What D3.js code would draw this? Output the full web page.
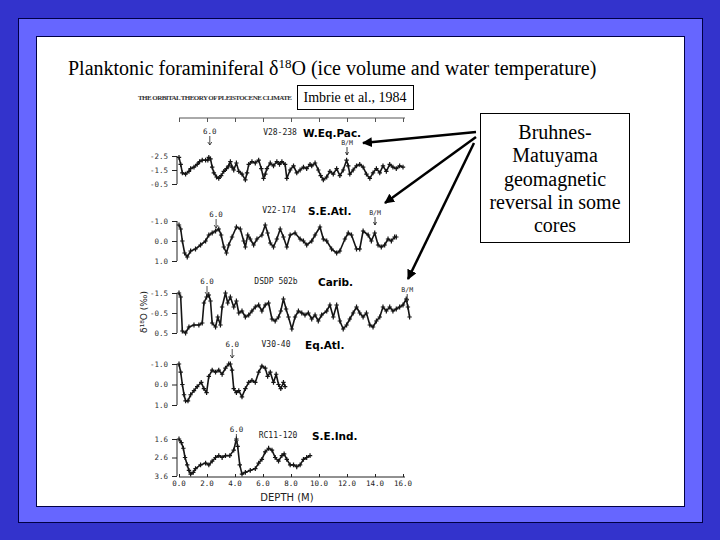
<!DOCTYPE html>
<html>
<head>
<meta charset="utf-8">
<script src="https://cdn.jsdelivr.net/npm/d3@7"></script>
<style>
  body { margin: 0; background: #3333cc; }
  svg { display: block; }
</style>
</head>
<body>
<div id="slide"></div>
<script>
// depth (m) and d18O values, one pair of arrays per core
const v28Depth = [0, 0.12, 0.24, 0.47, 0.71, 0.83, 1.07, 1.3, 1.47, 1.66, 1.9, 2.06, 2.13, 2.25, 2.37, 2.49, 2.68, 2.84, 3.01, 3.2, 3.39, 3.55, 3.67, 3.79, 3.91, 4.1, 4.27, 4.5, 4.74, 4.86, 4.98, 5.21, 5.45, 5.69, 5.88, 6.04, 6.16, 6.28, 6.52, 6.75, 6.99, 7.18, 7.35, 7.58, 7.7, 7.94, 8.18, 8.41, 8.65, 8.89, 9.12, 9.36, 9.48, 9.72, 9.95, 10.12, 10.31, 10.55, 10.78, 11.02, 11.26, 11.49, 11.73, 11.97, 12.09, 12.2, 12.44, 12.68, 12.91, 13.15, 13.39, 13.63, 13.86, 14.1, 14.34, 14.57, 14.81, 15.05, 15.28, 15.52, 15.76, 16.0];
const v28Val = [-2.4, -1.9, -1.3, -1.2, -1.4, -1.6, -1.7, -1.9, -2.1, -2.2, -2.2, -2.2, -2.4, -2.3, -1.7, -1.3, -1.0, -0.9, -1.1, -1.4, -1.6, -1.8, -2.1, -1.7, -1.5, -2.0, -1.4, -1.2, -0.8, -1.3, -1.9, -2.1, -2.0, -2.2, -1.6, -0.9, -1.2, -1.6, -2.0, -1.8, -2.1, -1.9, -2.1, -1.9, -0.9, -1.5, -1.8, -1.3, -1.5, -1.7, -1.6, -1.9, -1.8, -2.0, -1.5, -1.1, -0.8, -1.0, -1.4, -1.2, -1.6, -1.1, -1.5, -2.2, -1.8, -1.2, -1.5, -1.8, -1.9, -1.7, -1.2, -0.9, -1.3, -1.6, -1.3, -1.8, -1.4, -1.9, -1.7, -1.6, -1.8, -1.7];

const v22Depth = [0, 0.12, 0.24, 0.4, 0.59, 0.83, 1.18, 1.54, 1.9, 2.13, 2.37, 2.61, 2.84, 3.01, 3.2, 3.39, 3.55, 3.79, 4.1, 4.38, 4.62, 4.74, 4.91, 5.09, 5.33, 5.57, 5.92, 6.16, 6.33, 6.52, 6.75, 6.99, 7.23, 7.46, 7.7, 7.94, 8.29, 8.65, 8.89, 9.12, 9.48, 9.72, 10.07, 10.31, 10.55, 10.9, 11.26, 11.49, 11.85, 12.09, 12.32, 12.68, 12.91, 13.15, 13.51, 13.74, 13.98, 14.22, 14.45, 14.69, 14.93, 15.17, 15.4, 15.52];
const v22Val = [-0.8, -0.6, 0.0, 0.6, 0.8, 0.5, 0.4, 0.2, 0.0, -0.3, -0.4, -0.5, -0.6, -0.3, 0.3, 0.6, 0.2, -0.2, -0.7, -0.6, 0.0, 0.3, -0.3, -0.1, 0.2, -0.1, -0.3, -0.8, -0.4, 0.1, 0.3, -0.1, -0.6, -0.2, 0.3, -0.3, -0.4, -0.1, 0.0, 0.2, 0.0, -0.3, -0.7, -0.1, 0.0, 0.4, 0.6, 0.5, -0.1, -0.4, -0.3, 0.4, 0.4, -0.5, -0.3, 0.0, -0.4, 0.2, 0.3, 0.2, -0.1, 0.0, -0.2, -0.2];

const dsdpDepth = [0, 0.12, 0.24, 0.47, 0.71, 1.07, 1.42, 1.66, 1.78, 1.97, 2.13, 2.25, 2.37, 2.61, 2.77, 2.96, 3.08, 3.32, 3.48, 3.67, 3.91, 4.1, 4.27, 4.5, 4.74, 4.98, 5.21, 5.45, 5.69, 5.92, 6.16, 6.4, 6.64, 6.87, 7.11, 7.27, 7.46, 7.65, 7.82, 8.06, 8.29, 8.53, 8.77, 9.0, 9.24, 9.48, 9.72, 9.95, 10.19, 10.55, 10.78, 11.02, 11.26, 11.49, 11.73, 11.97, 12.2, 12.44, 12.68, 12.91, 13.15, 13.39, 13.63, 13.86, 14.1, 14.34, 14.57, 14.81, 15.05, 15.28, 15.52, 15.76, 16.0, 16.23, 16.35, 16.47];
const dsdpVal = [-1.5, -1.3, 0.4, 0.5, 0.2, 0.1, 0.1, 0.0, -1.0, -1.3, -1.4, -1.1, 0.0, 0.2, -0.3, 0.1, -0.8, -1.5, -1.0, -1.3, -0.8, -1.1, -0.5, -0.6, -0.3, -0.4, -0.6, -0.8, -0.9, -0.6, -0.9, -1.0, -0.2, -0.1, -0.3, -0.6, -1.2, -0.7, -0.3, 0.3, -0.3, -0.6, -0.5, -0.4, -0.5, -0.2, -0.4, -0.1, -0.4, -0.6, -0.9, -0.3, -0.9, -0.1, 0.3, 0.1, -0.2, -0.5, -0.8, -0.5, -0.3, -0.5, 0.1, 0.2, -0.1, -0.3, -0.8, -0.6, -0.8, -0.6, -0.7, -0.8, -0.9, -1.2, -0.8, -0.3];

const v30Depth = [0, 0.12, 0.24, 0.36, 0.47, 0.64, 0.83, 1.07, 1.3, 1.59, 1.78, 1.97, 2.13, 2.37, 2.61, 2.84, 3.08, 3.32, 3.55, 3.67, 3.79, 3.91, 4.1, 4.27, 4.5, 4.74, 4.98, 5.21, 5.45, 5.69, 5.92, 6.16, 6.33, 6.52, 6.75, 6.94, 7.11, 7.27, 7.46, 7.58];
const v30Val = [-1.0, -0.6, 0.0, 0.5, 0.8, 0.8, 0.5, 0.3, 0.1, -0.1, 0.2, 0.4, -0.4, -0.7, -0.6, -0.7, -0.5, -0.8, -1.0, -1.0, -0.7, 0.2, 0.4, 0.3, 0.6, 0.2, -0.1, -0.2, -0.1, -0.6, -0.9, -0.8, -0.4, -0.6, -0.1, -0.5, 0.0, 0.2, -0.1, 0.1];

const rc11Depth = [0, 0.17, 0.31, 0.43, 0.59, 0.71, 0.83, 1.02, 1.18, 1.54, 1.9, 2.13, 2.37, 2.61, 2.84, 3.08, 3.32, 3.63, 3.91, 4.1, 4.19, 4.34, 4.5, 4.74, 5.09, 5.45, 5.69, 5.92, 6.16, 6.4, 6.64, 6.87, 7.11, 7.35, 7.51, 7.7, 7.94, 8.18, 8.41, 8.65, 8.89, 9.12, 9.36];
const rc11Val = [1.6, 1.8, 2.1, 2.6, 3.0, 3.3, 3.5, 3.4, 3.2, 3.0, 2.9, 3.0, 2.8, 2.6, 2.5, 2.6, 2.5, 2.5, 2.2, 1.6, 2.0, 3.0, 3.5, 3.4, 3.3, 3.2, 2.9, 2.7, 2.3, 2.1, 2.2, 2.6, 2.8, 2.5, 2.4, 2.7, 3.0, 3.0, 3.1, 3.0, 2.7, 2.6, 2.5];

const coreNames = ["V28-238", "V22-174", "DSDP 502b", "V30-40", "RC11-120"];
const regionNames = ["W.Eq.Pac.", "S.E.Atl.", "Carib.", "Eq.Atl.", "S.E.Ind."];
const yTickLabels = [["-2.5", "-1.5", "-0.5"], ["-1.0", "0.0", "1.0"], ["-1.5", "-0.5", "0.5"], ["-1.0", "0.0", "1.0"], ["1.6", "2.6", "3.6"]];
const stage6Depth = [2.2, 2.65, 2.0, 3.8, 4.1];
const bmDepth = [12.0, 14.0, 16.3, null, null];
const depthTicks = [0, 2, 4, 6, 8, 10, 12, 14, 16];
const depthTickLabels = ["0.0", "2.0", "4.0", "6.0", "8.0", "10.0", "12.0", "14.0", "16.0"];

const noteLines = ["Bruhnes-", "Matuyama", "geomagnetic", "reversal in some", "cores"];

// panel layout: pixel band for each core
const bands = [
  { top: 156, bottom: 184, nameY: 135, stageY: 134, bmY: 145 },
  { top: 221, bottom: 261, nameY: 213, stageY: 217, bmY: 215 },
  { top: 293, bottom: 333, nameY: 284, stageY: 284, bmY: 292 },
  { top: 364, bottom: 405, nameY: 347, stageY: 347, bmY: 0 },
  { top: 439, bottom: 476, nameY: 438, stageY: 432, bmY: 0 }
];
const nameX = [280, 279, 276, 276, 278];
const regionX = [303, 308, 318, 305, 312];

const cores = [
  { d: v28Depth, v: v28Val },
  { d: v22Depth, v: v22Val },
  { d: dsdpDepth, v: dsdpVal },
  { d: v30Depth, v: v30Val },
  { d: rc11Depth, v: rc11Val }
];

const width = 720, height = 540;
const svg = d3.select("#slide").append("svg").attr("width", width).attr("height", height);

// slide frame
svg.append("rect").attr("width", width).attr("height", height).attr("fill", "#3333cc");
svg.append("rect").attr("x", 18.5).attr("y", 18.5).attr("width", 684).attr("height", 504)
  .attr("fill", "#6666ff").attr("stroke", "#000044");
svg.append("rect").attr("x", 36.5).attr("y", 36.5).attr("width", 648).attr("height", 470)
  .attr("fill", "#ffffff").attr("stroke", "#000044");

// title
const title = svg.append("text").attr("x", 68).attr("y", 75)
  .style("font-family", "'Liberation Serif', 'Times New Roman', serif")
  .style("font-size", "20px").attr("fill", "#000");
title.append("tspan").text("Planktonic foraminiferal \u03b4");
title.append("tspan").attr("dy", -7).style("font-size", "13px").text("18");
title.append("tspan").attr("dy", 7).text("O (ice volume and water temperature)");

// scanned figure caption
svg.append("text").attr("x", 138).attr("y", 100).attr("textLength", 154)
  .style("font-family", "'Liberation Serif', serif").style("font-size", "7px")
  .style("font-weight", "bold").attr("fill", "#333")
  .text("THE ORBITAL THEORY OF PLEISTOCENE CLIMATE");

const x = d3.scaleLinear().domain([0, 16]).range([179, 403]);
const ink = "#151515";
const mono = "'DejaVu Sans Mono', monospace";

// top axis
const topAxis = svg.append("g").attr("transform", "translate(0,118)")
  .call(d3.axisBottom(x).tickValues(depthTicks).tickSize(4).tickFormat(""));
topAxis.select(".domain").attr("stroke", "#555").attr("d", "M179,0H405");
topAxis.selectAll(".tick line").attr("stroke", "#555");

// bottom axis
const botAxis = svg.append("g").attr("transform", "translate(0,477)")
  .call(d3.axisTop(x).tickValues(depthTicks).tickSize(3).tickFormat(""));
botAxis.select(".domain").attr("stroke", "#222").attr("d", "M179,0H405");
botAxis.selectAll(".tick line").attr("stroke", "#222");
svg.append("g").selectAll("text").data(depthTicks).join("text")
  .attr("x", d => x(d)).attr("y", 486).attr("text-anchor", "middle")
  .style("font-family", mono).style("font-size", "7.5px").attr("fill", "#222")
  .text((d, i) => depthTickLabels[i]);
svg.append("text").attr("x", 287).attr("y", 501).attr("text-anchor", "middle")
  .style("font-family", "'DejaVu Sans', sans-serif").style("font-size", "10px").attr("fill", "#222")
  .text("DEPTH (M)");

const line = d3.line().x(d => x(d[0]));

cores.forEach((c, i) => {
  const b = bands[i];
  const lo = +yTickLabels[i][0], hi = +yTickLabels[i][2];
  const y = d3.scaleLinear().domain([lo, hi]).range([b.top, b.bottom]);
  const g = svg.append("g");

  // left axis
  const ax = g.append("g").attr("transform", "translate(177,0)")
    .call(d3.axisLeft(y).tickValues(yTickLabels[i].map(Number)).tickSize(5)
      .tickFormat((d, k) => yTickLabels[i][k]));
  ax.select(".domain").attr("stroke", "#222").attr("d", `M0,${b.top}V${b.bottom}`);
  ax.selectAll(".tick line").attr("stroke", "#222");
  ax.selectAll(".tick text").style("font-family", mono).style("font-size", "7.5px")
    .attr("fill", "#333").attr("x", -9);

  const pts = c.d.map((d, k) => [d, c.v[k]]);
  g.append("path").datum(pts).attr("fill", "none").attr("stroke", ink)
    .attr("stroke-width", 1.6).attr("stroke-linejoin", "round")
    .attr("d", line.y(d => y(d[1])));
  g.selectAll(".pt").data(pts).join("path").attr("class", "pt")
    .attr("transform", d => `translate(${x(d[0])},${y(d[1])})`)
    .attr("d", "M-2.2,0H2.2M0,-2.4V2.4").attr("stroke", ink).attr("stroke-width", 1.2);

  // core name and region
  g.append("text").attr("x", nameX[i]).attr("y", b.nameY).attr("text-anchor", "middle")
    .style("font-family", mono).style("font-size", "8px").attr("fill", "#222")
    .text(coreNames[i]);
  g.append("text").attr("x", regionX[i]).attr("y", b.nameY + 2)
    .style("font-family", "'DejaVu Sans', sans-serif").style("font-size", "10.5px")
    .style("font-weight", "bold").attr("fill", "#000")
    .text(regionNames[i]);

  // stage 6.0 marker
  const sx = x(stage6Depth[i]);
  g.append("text").attr("x", sx).attr("y", b.stageY).attr("text-anchor", "middle")
    .style("font-family", mono).style("font-size", "7.5px").attr("fill", "#222").text("6.0");
  g.append("path").attr("d", `M${sx},${b.stageY + 2}V${b.stageY + 11}M${sx - 2},${b.stageY + 8}L${sx},${b.stageY + 11}L${sx + 2},${b.stageY + 8}`)
    .attr("fill", "none").attr("stroke", "#222").attr("stroke-width", 0.8);

  // B/M marker
  if (bmDepth[i] !== null) {
    const bx = x(bmDepth[i]);
    g.append("text").attr("x", bx).attr("y", b.bmY).attr("text-anchor", "middle")
      .style("font-family", mono).style("font-size", "6.5px").attr("fill", "#222").text("B/M");
    g.append("path").attr("d", `M${bx},${b.bmY + 2}V${b.bmY + 10}M${bx - 1.5},${b.bmY + 7}L${bx},${b.bmY + 10}L${bx + 1.5},${b.bmY + 7}`)
      .attr("fill", "none").attr("stroke", "#222").attr("stroke-width", 0.9);
  }
});

// y-axis label of the figure
svg.append("text").attr("transform", "translate(147,312) rotate(-90)")
  .attr("text-anchor", "middle")
  .style("font-family", "'DejaVu Sans', sans-serif").style("font-size", "9px").attr("fill", "#222")
  .text("\u03b4\u00b9\u2078O (\u2030)");

// citation box
svg.append("rect").attr("x", 297.5).attr("y", 85.5).attr("width", 116).attr("height", 24)
  .attr("fill", "#fff").attr("stroke", "#000");
svg.append("text").attr("x", 355).attr("y", 102).attr("text-anchor", "middle")
  .style("font-family", "'Liberation Serif', serif").style("font-size", "14px")
  .text("Imbrie et al., 1984");

// note box
svg.append("rect").attr("x", 480.5).attr("y", 113.5).attr("width", 149).attr("height", 129)
  .attr("fill", "#fff").attr("stroke", "#000");
svg.append("g").selectAll("text").data(noteLines).join("text")
  .attr("x", 555).attr("y", (d, i) => 139 + i * 23.3).attr("text-anchor", "middle")
  .style("font-family", "'Liberation Serif', serif").style("font-size", "20px")
  .text(d => d);

// arrows to the B/M markers
svg.append("defs").append("marker").attr("id", "head")
  .attr("viewBox", "0 0 10 10").attr("refX", 9).attr("refY", 5)
  .attr("markerWidth", 4).attr("markerHeight", 4).attr("orient", "auto")
  .append("path").attr("d", "M0,0L10,5L0,10Z").attr("fill", "#000");
const arrows = [[476, 132, 363, 143], [476, 137, 385, 203], [474, 143, 408, 279]];
svg.append("g").selectAll("line").data(arrows).join("line")
  .attr("x1", d => d[0]).attr("y1", d => d[1]).attr("x2", d => d[2]).attr("y2", d => d[3])
  .attr("stroke", "#000").attr("stroke-width", 2.5).attr("marker-end", "url(#head)");
</script>
</body>
</html>
